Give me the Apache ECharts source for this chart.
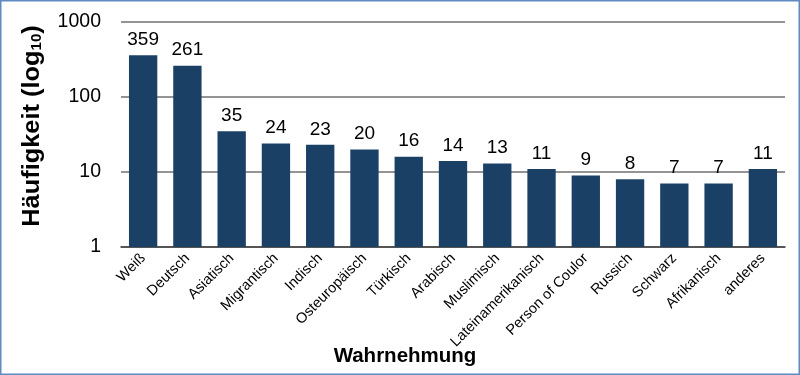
<!DOCTYPE html>
<html><head><meta charset="utf-8">
<script src="https://cdn.jsdelivr.net/npm/echarts@6/dist/echarts.min.js"></script>
<style>html,body{margin:0;padding:0;background:#fff}#c{width:800px;height:375px}</style>
</head><body><div id="c"></div>
<script>
const categories = ['Weiß','Deutsch','Asiatisch','Migrantisch','Indisch','Osteuropäisch','Türkisch','Arabisch','Muslimisch','Lateinamerikanisch','Person of Coulor','Russich','Schwarz','Afrikanisch','anderes'];
const values = [359,261,35,24,23,20,16,14,13,11,9,8,7,7,11];
const yTicks = [1,10,100,1000];

const chart = echarts.init(document.getElementById('c'), null, {renderer:'canvas'});
chart.setOption({
  animation:false,
  backgroundColor:'#fff',
  grid:{left:121,right:15,top:22,bottom:128,containLabel:false},
  xAxis:{
    type:'category', data:categories,
    axisLine:{lineStyle:{color:'#404040',width:1.5}},
    axisTick:{show:false},
    axisLabel:{interval:0,rotate:45,fontFamily:'Liberation Sans, Arial',fontSize:14.5,color:'#000',margin:9}
  },
  yAxis:{
    type:'log', logBase:10, min:yTicks[0], max:yTicks[yTicks.length-1],
    axisLine:{show:false}, axisTick:{show:false},
    splitLine:{lineStyle:{color:'#707070',width:1.5}},
    axisLabel:{fontFamily:'Liberation Sans, Arial',fontSize:19.5,color:'#000',margin:20,
      formatter:v=>String(Math.round(v))}
  },
  series:[{
    type:'bar', data:values, barCategoryGap:'36%',
    itemStyle:{color:'#1b4066'},
    label:{show:true,position:'top',distance:6,fontFamily:'Liberation Sans, Arial',fontSize:19,color:'#000'}
  }],
  graphic:[
    {type:'rect',shape:{x:0.75,y:0.75,width:798.5,height:373.5},style:{fill:'none',stroke:'#5f8ac4',lineWidth:1.5},silent:true,z:100},
    {type:'text',x:33,y:126,rotation:Math.PI/2,scaleX:1.08,
      style:{text:'{b|Häufigkeit (log}{s|10}{b|)}',align:'center',verticalAlign:'middle',
        rich:{b:{fontFamily:'Liberation Sans, Arial',fontWeight:'bold',fontSize:23.5,fill:'#000'},
              s:{fontFamily:'Liberation Sans, Arial',fontWeight:'bold',fontSize:14,fill:'#000',padding:[9,0,0,0]}}}},
    {type:'text',x:405,y:356,
      style:{text:'Wahrnehmung',align:'center',verticalAlign:'middle',fontFamily:'Liberation Sans, Arial',fontWeight:'bold',fontSize:20.5,fill:'#000'}}
  ]
});
</script></body></html>
